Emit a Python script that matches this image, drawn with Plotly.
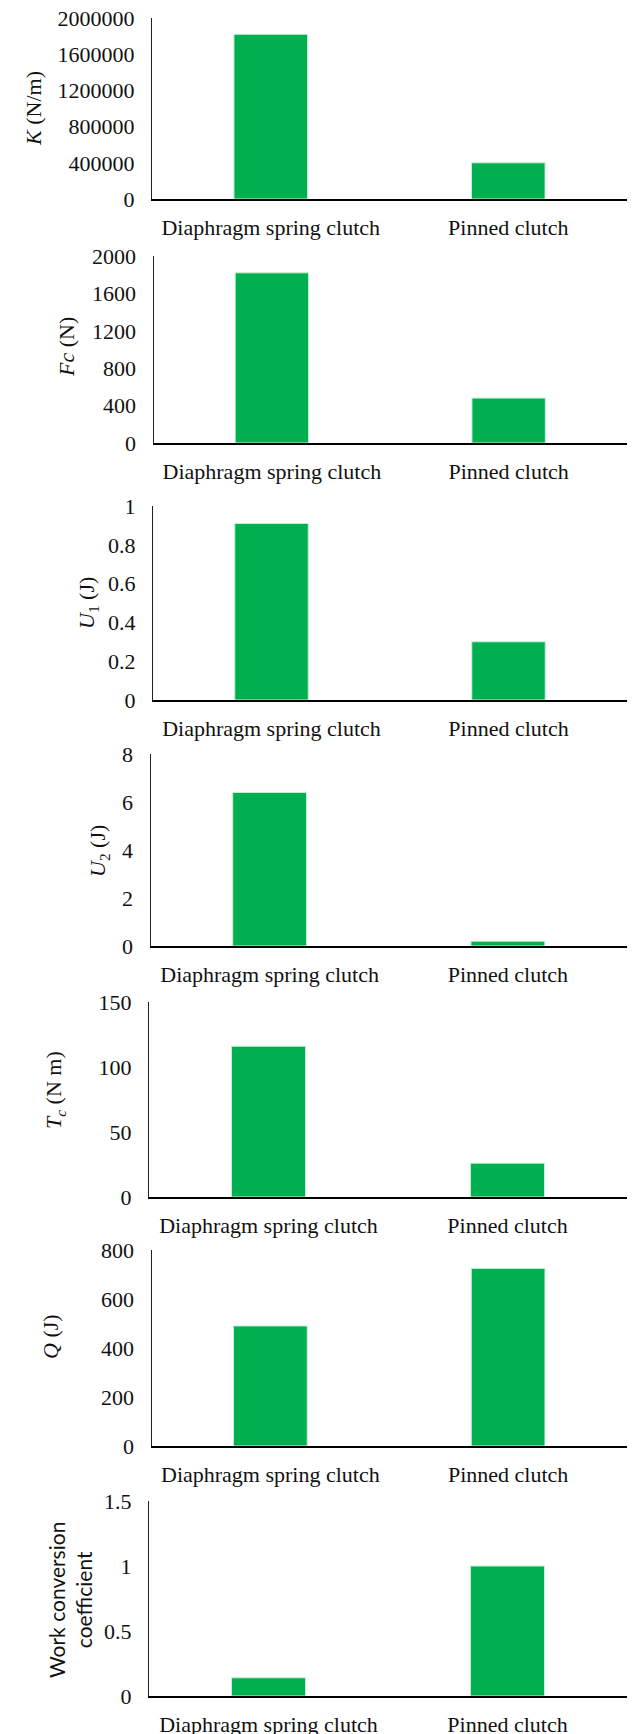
import plotly.graph_objects as go

W, H = 632, 1734

categories = ["Diaphragm spring clutch", "Pinned clutch"]
K_vals = [1820000, 400000]
Fc_vals = [1820, 480]
U1_vals = [0.91, 0.30]
U2_vals = [6.4, 0.2]
Tc_vals = [116, 26]
Q_vals = [490, 725]
WCC_vals = [0.14, 1.0]

series = [K_vals, Fc_vals, U1_vals, U2_vals, Tc_vals, Q_vals, WCC_vals]
y_max = [2000000, 2000, 1, 8, 150, 800, 1.5]
y_dtick = [400000, 400, 0.2, 2, 50, 200, 0.5]
titles = ["<i>K</i> (N/m)", "<i>Fc</i> (N)", "<i>U</i><sub>1</sub> (J)",
          "<i>U</i><sub>2</sub> (J)", "<i>T<sub>c</sub></i> (N m)", "<i>Q</i> (J)",
          "Work conversion<br>coefficient"]

# panel geometry in pixels (top of value axis, zero line, left edge)
tops = [18, 256, 506, 754, 1002, 1250, 1501]
bottoms = [199, 443, 700, 946, 1197, 1446, 1696]
lefts = [152, 153.5, 153, 150.5, 149, 151.5, 149]
right = 627
title_x = [33, 66, 88, 99, 55, 50, 70]
title_y = [109, 347, 603, 851, 1090, 1337, 1600]

serif = "Liberation Serif"
GREEN = "#00B050"

fig = go.Figure()
layout = dict(width=W, height=H, margin=dict(l=0, r=0, t=0, b=0, autoexpand=False),
              paper_bgcolor="white", plot_bgcolor="white", showlegend=False,
              bargap=0.69)
annotations = []
for i, vals in enumerate(series):
    n = "" if i == 0 else str(i + 1)
    fig.add_trace(go.Bar(x=categories, y=vals, xaxis="x" + n, yaxis="y" + n,
                         marker=dict(color=GREEN, line=dict(color="#c8f0d4", width=1)),
                         hoverinfo="skip"))
    layout["xaxis" + n] = dict(
        domain=[lefts[i] / W, right / W], anchor="y" + n, automargin=False,
        showline=True, linecolor="black", linewidth=2, showgrid=False,
        ticks="outside", ticklen=8, tickcolor="rgba(0,0,0,0)",
        tickfont=dict(family=serif, size=22, color="#111"), zeroline=False)
    layout["yaxis" + n] = dict(
        domain=[1 - bottoms[i] / H, 1 - tops[i] / H], anchor="x" + n,
        automargin=False,
        range=[0, y_max[i]], dtick=y_dtick[i], tick0=0,
        showline=True, linecolor="#222", linewidth=1, showgrid=False,
        zeroline=False, ticks="outside", ticklen=12, tickcolor="rgba(0,0,0,0)",
        tickformat="d" if i == 0 else None,
        tickfont=dict(family=serif, size=22, color="#111"))
    fam = "Lato" if i == 6 else serif
    annotations.append(dict(
        text=titles[i], x=title_x[i] / W, y=1 - title_y[i] / H,
        xref="paper", yref="paper", showarrow=False, textangle=-90,
        xanchor="center", yanchor="middle",
        font=dict(family=fam, size=22 if i < 6 else 21, color="#111")))
layout["annotations"] = annotations
fig.update_layout(**layout)
fig.write_html("out.html", config={"displayModeBar": False, "staticPlot": True},
               post_script="document.body.style.margin='0px';document.body.style.overflow='hidden';")
